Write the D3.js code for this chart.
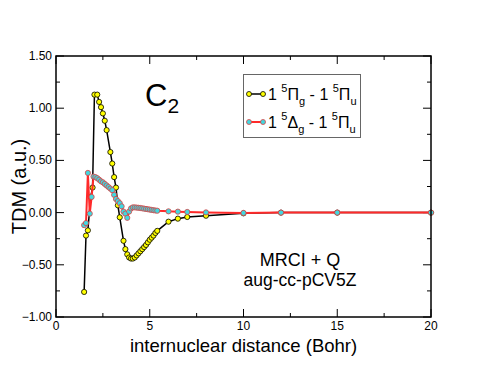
<!DOCTYPE html>
<html>
<head>
<meta charset="utf-8">
<script src="https://cdn.jsdelivr.net/npm/d3@7"></script>
<style>
    body { margin: 0; background: #fff; }
    svg { font-family: "Liberation Sans", Arial, sans-serif; }
</style>
</head>
<body>
<div id="chart"></div>
<script>
// 1 5Pi_g - 1 5Pi_u
const piX = [1.5, 1.6, 1.7, 1.85, 1.95, 2.05, 2.2, 2.3, 2.4, 2.5, 2.6, 2.7, 2.9, 3.0, 3.1, 3.2, 3.3, 3.4,
    3.6, 3.7, 3.8, 3.9, 4.0, 4.1, 4.2, 4.3, 4.4, 4.5, 4.6, 4.7, 4.8, 4.9, 5.0, 5.1, 5.2, 5.3, 5.4,
    6.0, 6.5, 7.0, 8.0, 10.0, 12.0, 15.0, 20.0];
const piY = [-0.76, -0.22, -0.17, 0.15, 0.24, 1.13, 1.13, 1.06, 1.01, 0.95, 0.88, 0.79, 0.58, 0.47, 0.34, 0.24, 0.07, -0.045,
    -0.27, -0.35, -0.40, -0.43, -0.44, -0.44, -0.43, -0.41, -0.39, -0.37, -0.35, -0.33, -0.31, -0.285, -0.26, -0.24, -0.22, -0.195, -0.175,
    -0.087, -0.058, -0.042, -0.03, -0.007, 0.0, 0.0, 0.0];

// 1 5Delta_g - 1 5Pi_u
const deltaX = [1.5, 1.6, 1.7, 1.8, 1.9, 2.0, 2.1, 2.2, 2.3, 2.4, 2.5, 2.6, 2.7, 2.8, 2.9, 3.0, 3.1, 3.2, 3.3, 3.4,
    3.5, 3.6, 3.7, 3.8, 3.9, 4.0, 4.1, 4.2, 4.3, 4.4, 4.5, 4.6, 4.7, 4.8, 4.9, 5.0, 5.1, 5.2, 5.3, 5.4,
    6.0, 6.5, 7.0, 8.0, 10.0, 12.0, 15.0, 20.0];
const deltaY = [-0.12, -0.10, 0.38, -0.01, 0.15, 0.345, 0.34, 0.33, 0.315, 0.30, 0.29, 0.275, 0.26, 0.245, 0.23, 0.215, 0.17, 0.13, 0.11, 0.09,
    0.06, 0.01, -0.01, -0.05, 0.01, 0.04, 0.05, 0.05, 0.048, 0.046, 0.044, 0.041, 0.038, 0.035, 0.032, 0.029, 0.026, 0.023, 0.02, 0.018,
    0.012, 0.009, 0.006, 0.002, -0.003, 0.0, 0.0, 0.0];

const xTicks = [0, 5, 10, 15, 20];
const yTicks = [-1.0, -0.5, 0.0, 0.5, 1.0, 1.5];

const width = 485, height = 375;
const margin = { top: 56, right: 54, bottom: 58, left: 56 };
const innerW = width - margin.left - margin.right;
const innerH = height - margin.top - margin.bottom;

const svg = d3.select("#chart")
    .append("svg")
    .attr("width", width)
    .attr("height", height);

const g = svg.append("g")
    .attr("transform", `translate(${margin.left},${margin.top})`);

const x = d3.scaleLinear().domain([0, 20]).range([0, innerW]);
const y = d3.scaleLinear().domain([-1, 1.5]).range([innerH, 0]);

// axes, ticks pointing inward on all four sides
const minorX = d3.range(0, 20.01, 2.5).filter(v => v % 5 !== 0);
const minorY = d3.range(-1, 1.51, 0.25).filter(v => Math.abs(v * 2 - Math.round(v * 2)) > 1e-6);

function drawTicks(vals, len) {
    vals.forEach(v => {
        g.append("line").attr("x1", x(v)).attr("x2", x(v)).attr("y1", innerH).attr("y2", innerH - len).attr("stroke", "#000");
        g.append("line").attr("x1", x(v)).attr("x2", x(v)).attr("y1", 0).attr("y2", len).attr("stroke", "#000");
    });
}
function drawYTicks(vals, len) {
    vals.forEach(v => {
        g.append("line").attr("x1", 0).attr("x2", len).attr("y1", y(v)).attr("y2", y(v)).attr("stroke", "#000");
        g.append("line").attr("x1", innerW).attr("x2", innerW - len).attr("y1", y(v)).attr("y2", y(v)).attr("stroke", "#000");
    });
}
drawTicks(xTicks, 8);
drawTicks(minorX, 4);
drawYTicks(yTicks, 8);
drawYTicks(minorY, 4);

g.selectAll(".xlab")
    .data(xTicks)
    .enter().append("text")
    .attr("x", d => x(d))
    .attr("y", innerH + 13)
    .attr("text-anchor", "middle")
    .attr("font-size", 12)
    .text(d => d);

g.selectAll(".ylab")
    .data(yTicks)
    .enter().append("text")
    .attr("x", -4)
    .attr("y", d => y(d) + 4)
    .attr("text-anchor", "end")
    .attr("font-size", 12)
    .text(d => d3.format(".2f")(d));

// series: Pi first, Delta drawn over it
const line = d3.line().x(d => x(d[0])).y(d => y(d[1]));
const piData = d3.zip(piX, piY);
const deltaData = d3.zip(deltaX, deltaY);

g.append("path")
    .datum(piData)
    .attr("fill", "none")
    .attr("stroke", "#000")
    .attr("stroke-width", 1.5)
    .attr("d", line);

g.selectAll(".ppt")
    .data(piData)
    .enter().append("circle")
    .attr("cx", d => x(d[0]))
    .attr("cy", d => y(d[1]))
    .attr("r", 2.6)
    .attr("fill", "#ffff00")
    .attr("stroke", "#000")
    .attr("stroke-width", 0.8);

g.append("path")
    .datum(deltaData)
    .attr("fill", "none")
    .attr("stroke", "#ff2a2a")
    .attr("stroke-width", 2)
    .attr("d", line);

g.selectAll(".dpt")
    .data(deltaData)
    .enter().append("circle")
    .attr("cx", d => x(d[0]))
    .attr("cy", d => y(d[1]))
    .attr("r", 2.6)
    .attr("fill", "#40d8e0")
    .attr("stroke", "#e04040")
    .attr("stroke-width", 0.8);

// frame
g.append("rect")
    .attr("width", innerW)
    .attr("height", innerH)
    .attr("fill", "none")
    .attr("stroke", "#000")
    .attr("stroke-width", 1.5);

// axis titles
svg.append("text")
    .attr("x", margin.left + innerW / 2)
    .attr("y", 352)
    .attr("text-anchor", "middle")
    .attr("font-size", 18.5)
    .text("internuclear distance (Bohr)");

svg.append("text")
    .attr("transform", `translate(26,${margin.top + innerH / 2}) rotate(-90)`)
    .attr("text-anchor", "middle")
    .attr("font-size", 20)
    .text("TDM (a.u.)");

// molecule label
const mol = svg.append("text").attr("x", 145).attr("y", 106).attr("font-size", 31);
mol.append("tspan").text("C");
mol.append("tspan").attr("font-size", 21).attr("dy", 7).text("2");

// annotation
svg.append("text").attr("x", 300).attr("y", 266).attr("text-anchor", "middle").attr("font-size", 18).text("MRCI + Q");
svg.append("text").attr("x", 300).attr("y", 286).attr("text-anchor", "middle").attr("font-size", 17.5).text("aug-cc-pCV5Z");

// legend
const legend = svg.append("g");
legend.append("rect")
    .attr("x", 243.5).attr("y", 74.5)
    .attr("width", 117).attr("height", 63)
    .attr("fill", "#fff")
    .attr("stroke", "#666")
    .attr("stroke-width", 1);

const legendItems = [
    { state: "\u03A0", sym: "g", stroke: "#000", fill: "#ffff00", dot: "#000", lw: 1.5 },
    { state: "\u0394", sym: "g", stroke: "#ff2a2a", fill: "#40d8e0", dot: "#e04040", lw: 2 }
];
legendItems.forEach((it, i) => {
    const cy = 94 + i * 28;
    legend.append("line").attr("x1", 249).attr("x2", 263).attr("y1", cy).attr("y2", cy)
        .attr("stroke", it.stroke).attr("stroke-width", it.lw);
    [249, 263].forEach(cx => legend.append("circle").attr("cx", cx).attr("cy", cy).attr("r", 2.5)
        .attr("fill", it.fill).attr("stroke", it.dot).attr("stroke-width", 0.8));
    const t = legend.append("text").attr("x", 268).attr("y", cy + 6).attr("font-size", 16);
    t.append("tspan").text("1 ");
    t.append("tspan").attr("font-size", 11).attr("dy", -8).text("5");
    t.append("tspan").attr("dy", 8).text(it.state);
    t.append("tspan").attr("font-size", 11).attr("dy", 5).text(it.sym);
    t.append("tspan").attr("dy", -5).text(" - 1 ");
    t.append("tspan").attr("font-size", 11).attr("dy", -8).text("5");
    t.append("tspan").attr("dy", 8).text("\u03A0");
    t.append("tspan").attr("font-size", 11).attr("dy", 5).text("u");
});
</script>
</body>
</html>
